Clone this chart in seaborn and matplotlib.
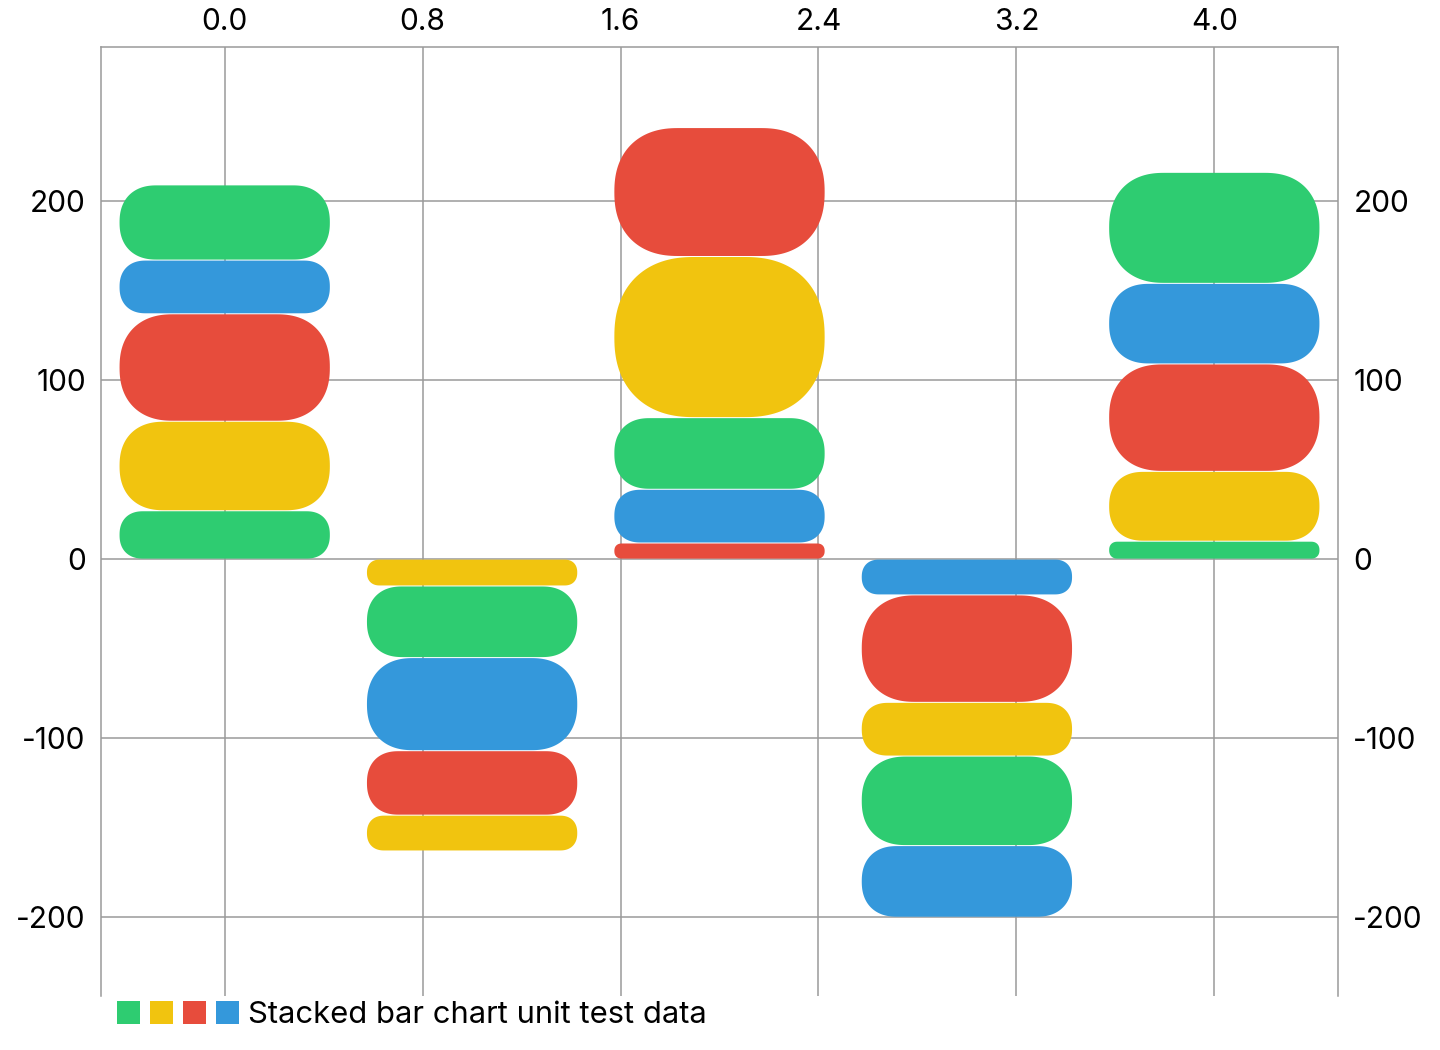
import numpy as np
import matplotlib
matplotlib.use("Agg")
import matplotlib.pyplot as plt
import matplotlib.patches as mpatches
from matplotlib.legend_handler import HandlerTuple
import seaborn as sns

sns.set_style("white")
plt.rcParams['font.family'] = ['Inter', 'DejaVu Sans']
plt.rcParams['axes.unicode_minus'] = False
plt.rcParams['text.color'] = 'black'

green, yellow, red, blue = '#2ecc71', '#f1c40f', '#e74c3c', '#3498db'

positions = [0, 1, 2, 3, 4]

# segments of each stack, from the zero line outwards
layer1 = [27, -15, 9, -20, 10]
layer2 = [50, -40, 30, -60, 39]
layer3 = [60, -52, 40, -30, 60]
layer4 = [30, -36, 90, -50, 45]
layer5 = [42, -20, 72, -40, 62]
layers = [layer1, layer2, layer3, layer4, layer5]

colors1 = [green, yellow, red, blue, green]
colors2 = [yellow, green, blue, red, yellow]
colors3 = [red, blue, green, yellow, red]
colors4 = [blue, red, yellow, green, blue]
colors5 = [green, yellow, red, blue, green]
layer_colors = [colors1, colors2, colors3, colors4, colors5]

legend_colors = [green, yellow, red, blue]
legend_label = 'Stacked bar chart unit test data'

x_ticks = [0.0, 0.8, 1.6, 2.4, 3.2, 4.0]
x_tick_labels = ['0.0', '0.8', '1.6', '2.4', '3.2', '4.0']
y_ticks = [-200, -100, 0, 100, 200]
y_tick_labels = ['-200', '-100', '0', '100', '200']

grid_color = '#9a9a9a'
font_size = 21.5

fig = plt.figure(figsize=(14.4, 10.5), dpi=100)
ax = fig.add_axes([101 / 1440, 54 / 1050, 1237 / 1440, 949 / 1050])

# draw each layer with seaborn, remembering which rectangles belong to it
bottoms = np.zeros(len(positions))
layer_rects = []
for vals in layers:
    vals = np.array(vals, dtype=float)
    n_before = len(ax.patches)
    sns.barplot(x=positions, y=vals, bottom=bottoms.copy(), native_scale=True,
                width=0.85, errorbar=None, color='gray', saturation=1, ax=ax)
    layer_rects.append(list(ax.patches[n_before:]))
    bottoms += vals

ax.set_xlim(-0.5, 4.5)
ax.set_ylim(-244, 286)

# pixels per data unit, so the corners come out round on screen
p0 = ax.transData.transform((0, 0))
p1 = ax.transData.transform((1, 1))
px_x = p1[0] - p0[0]
px_y = p1[1] - p0[1]
inset = 0.5 / px_y


def rounded_outline(x0, y0, w, h, r_px, n=2.3):
    # corners slightly softer than a plain circle arc
    rx = r_px / px_x
    ry = r_px / px_y
    t = np.linspace(0, np.pi / 2, 40)
    c = np.cos(t) ** (2 / n)
    s = np.sin(t) ** (2 / n)
    x1, y1 = x0 + w, y0 + h
    tr = np.column_stack([x1 - rx + rx * c, y1 - ry + ry * s])
    tl = np.column_stack([x0 + rx - rx * s, y1 - ry + ry * c])
    bl = np.column_stack([x0 + rx - rx * c, y0 + ry - ry * s])
    br = np.column_stack([x1 - rx + rx * s, y0 + ry - ry * c])
    return np.vstack([tr, tl, bl, br])


# swap the plain rectangles for rounded ones
for rects, cols in zip(layer_rects, layer_colors):
    for rect, col in zip(rects, cols):
        x0 = rect.get_x()
        w = rect.get_width()
        y0 = min(rect.get_y(), rect.get_y() + rect.get_height())
        h = abs(rect.get_height())
        rect.remove()
        y0 += inset
        h -= 2 * inset
        r_px = min(w * px_x, h * px_y) / 2
        poly = mpatches.Polygon(rounded_outline(x0, y0, w, h, r_px), closed=True,
                                facecolor=col, edgecolor='none', zorder=2)
        ax.add_patch(poly)

ax.set_xlabel('')
ax.set_ylabel('')
ax.set_xticks(x_ticks)
ax.set_xticklabels(x_tick_labels)
ax.set_yticks(y_ticks)
ax.set_yticklabels(y_tick_labels)
ax.xaxis.tick_top()
ax.tick_params(axis='x', top=True, bottom=False, labeltop=True, labelbottom=False,
               length=0, pad=8, labelsize=font_size, labelcolor='black')
ax.tick_params(axis='y', left=True, right=True, labelleft=True, labelright=True,
               length=0, pad=11, labelsize=font_size, labelcolor='black')

ax.set_axisbelow(True)
ax.grid(True, color=grid_color, linewidth=1.1)
for side in ['top', 'left', 'right']:
    ax.spines[side].set_color(grid_color)
    ax.spines[side].set_linewidth(1.1)
ax.spines['bottom'].set_visible(False)

handle = tuple(mpatches.Patch(facecolor=c, edgecolor='none') for c in legend_colors)
fig.legend([handle], [legend_label],
           handler_map={tuple: HandlerTuple(ndivide=None, pad=0.32)},
           loc='center left', bbox_to_anchor=(117 / 1440, 1 - 1015 / 1050),
           frameon=False, borderpad=0, borderaxespad=0, labelcolor='black',
           handlelength=3.94, handleheight=0.78, handletextpad=0.28, fontsize=22.3)

plt.savefig('out.png', dpi=100)
